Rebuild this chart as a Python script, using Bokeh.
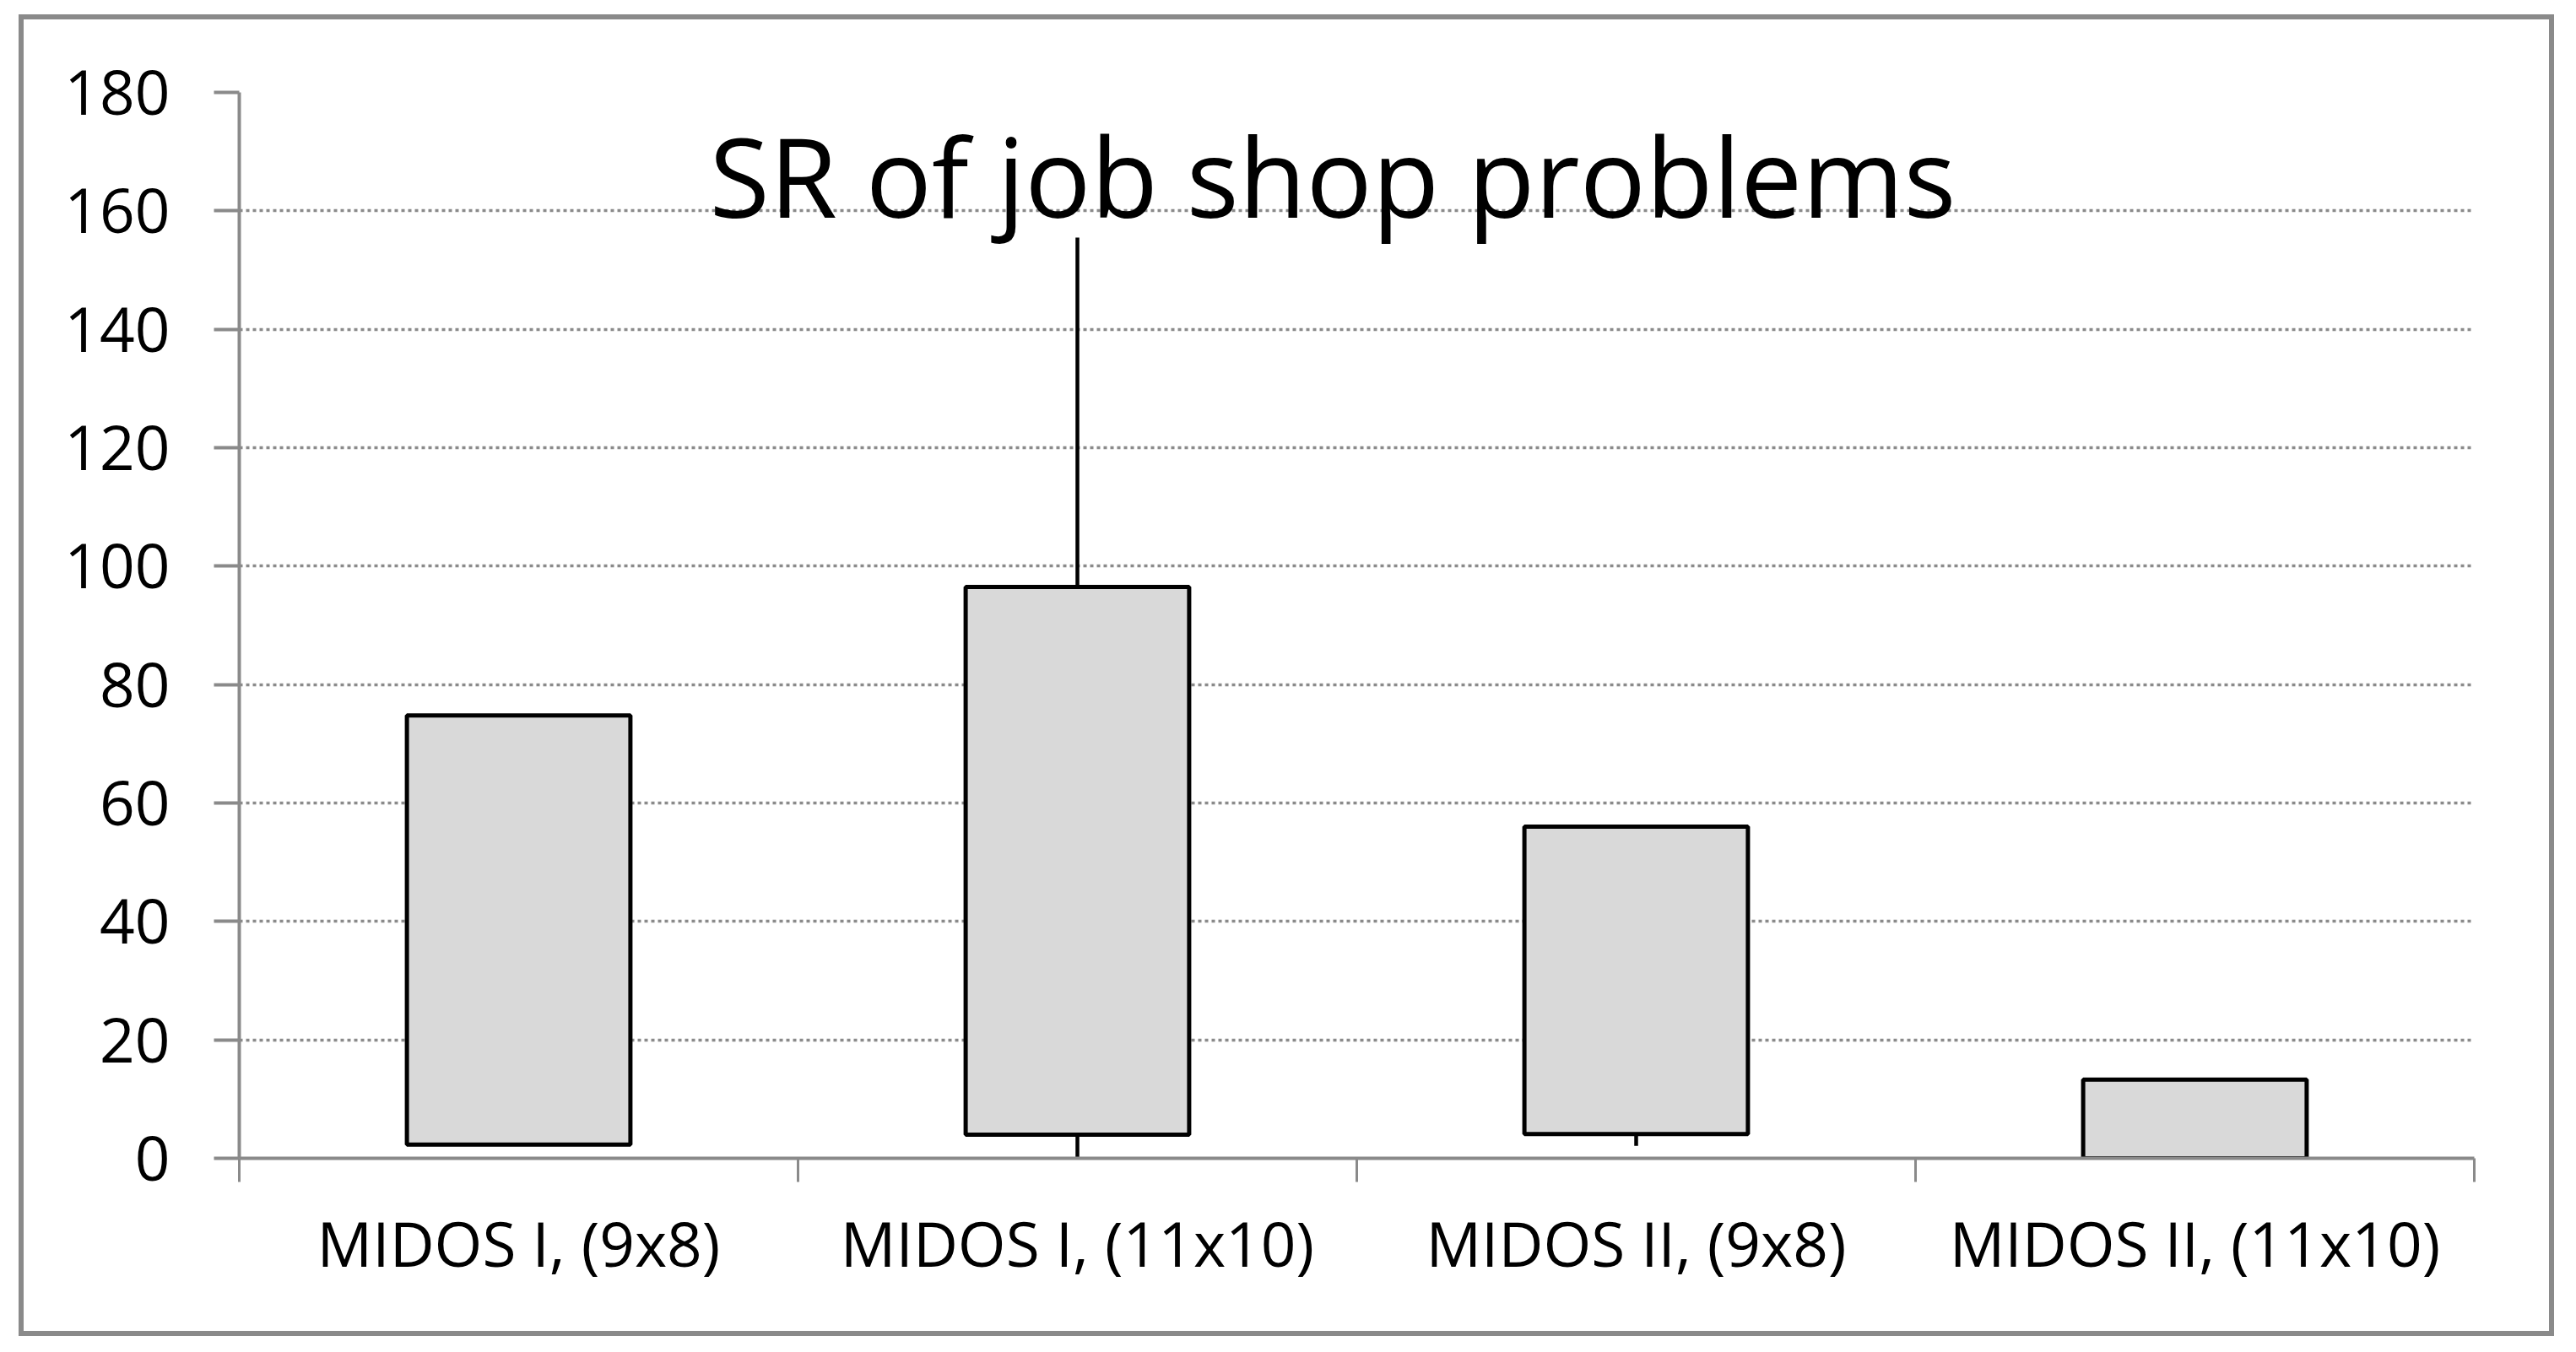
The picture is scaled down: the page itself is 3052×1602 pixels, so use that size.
from bokeh.plotting import figure
from bokeh.models import Range1d, FixedTicker, Label
from bokeh.embed import file_html
from bokeh.resources import INLINE

categories = ["MIDOS I, (9x8)", "MIDOS I, (11x10)", "MIDOS II, (9x8)", "MIDOS II, (11x10)"]
box_low = [2.3, 4.0, 4.1, 0.0]
box_high = [74.8, 96.5, 56.0, 13.3]
whisker_low = [2.3, 0.0, 2.1, 0.0]
whisker_high = [74.8, 155.5, 56.0, 13.3]
y_ticks = [0, 20, 40, 60, 80, 100, 120, 140, 160, 180]
title_text = "SR of job shop problems"

n = len(categories)
xs = [i + 0.5 for i in range(n)]
bounds = [float(i) for i in range(n + 1)]

GRAY = "#8a8a8a"
FONT = "Open Sans"

p = figure(width=3004, height=1566, output_backend="svg", toolbar_location=None,
           x_range=Range1d(0, n), y_range=Range1d(0, 180),
           min_border_left=255, min_border_right=101, min_border_top=86, min_border_bottom=217)
p.styles = {"border": "6px solid " + GRAY, "margin-left": "22px", "margin-top": "17px"}
p.outline_line_color = None
p.background_fill_color = "white"
p.border_fill_color = "white"

# y axis
p.yaxis.ticker = FixedTicker(ticks=y_ticks)
p.yaxis.axis_line_color = GRAY
p.yaxis.axis_line_width = 4
p.yaxis.major_tick_line_color = GRAY
p.yaxis.major_tick_line_width = 4
p.yaxis.major_tick_out = 30
p.yaxis.major_tick_in = 0
p.yaxis.minor_tick_line_color = None
p.yaxis.major_label_text_font = FONT
p.yaxis.major_label_text_font_size = "73px"
p.yaxis.major_label_text_color = "black"
p.yaxis.major_label_standoff = 52

# x axis
p.xaxis.ticker = FixedTicker(ticks=xs, minor_ticks=bounds)
p.xaxis.major_label_overrides = {x: c for x, c in zip(xs, categories)}
p.xaxis.axis_line_color = GRAY
p.xaxis.axis_line_width = 4
p.xaxis.major_tick_line_color = None
p.xaxis.major_tick_out = 28
p.xaxis.major_tick_in = 0
p.xaxis.minor_tick_line_color = GRAY
p.xaxis.minor_tick_line_width = 3
p.xaxis.minor_tick_out = 28
p.xaxis.minor_tick_in = 0
p.xaxis.major_label_text_font = FONT
p.xaxis.major_label_text_font_size = "73px"
p.xaxis.major_label_text_color = "black"
p.xaxis.major_label_standoff = 22

# grid
p.xgrid.grid_line_color = None
p.ygrid.ticker = FixedTicker(ticks=y_ticks)
p.ygrid.grid_line_color = GRAY
p.ygrid.grid_line_width = 3.5
p.ygrid.grid_line_dash = "4 4"

# whiskers and boxes
p.segment(x0=xs, y0=whisker_low, x1=xs, y1=whisker_high, line_color="black", line_width=4.5)
p.vbar(x=xs, width=0.4, bottom=box_low, top=box_high, fill_color="#d9d9d9",
       line_color="black", line_width=5)

title = Label(x=1.957, y=166.0, text=title_text, text_align="center", text_baseline="alphabetic",
              text_font=FONT, text_font_size="130px", text_color="black")
p.add_layout(title)

open("out.html", "w").write(file_html(p, INLINE))
